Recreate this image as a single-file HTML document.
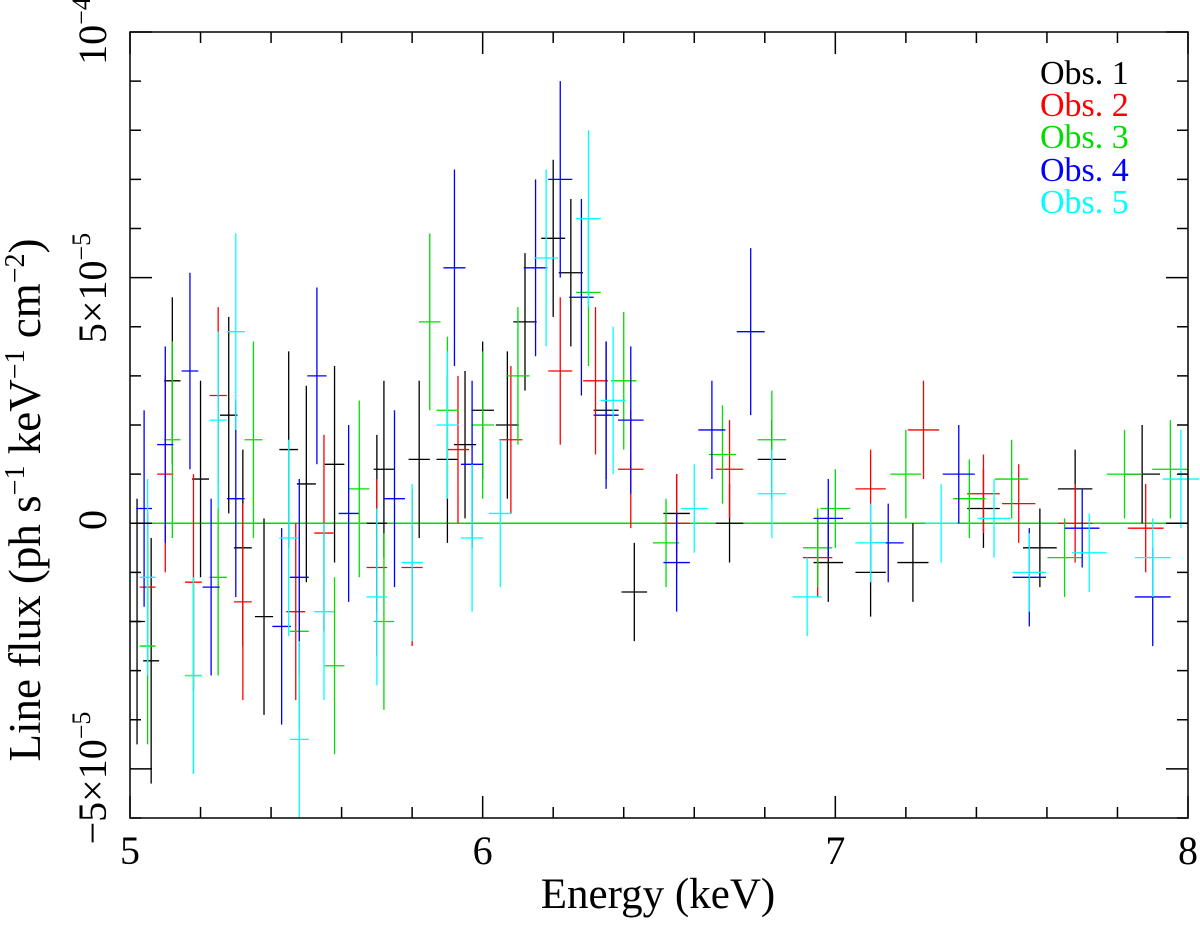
<!DOCTYPE html>
<html><head><meta charset="utf-8"><style>
body{margin:0;background:#fff}
svg{font-family:"Liberation Serif",serif}
</style></head><body>
<svg id="chart" width="1200" height="921" viewBox="0 0 1200 921">
<g id="marks"></g>
<g id="axes"></g>
<text x="658" y="908" font-size="43" text-anchor="middle">Energy (keV)</text>
<text transform="translate(40,500) rotate(-90)" font-size="45" text-anchor="middle">Line flux (ph s<tspan font-size="28" dy="-16">−1</tspan><tspan dy="16"> keV</tspan><tspan font-size="28" dy="-16">−1</tspan><tspan dy="16"> cm</tspan><tspan font-size="28" dy="-16">−2</tspan><tspan dy="16">)</tspan></text>
<g font-size="34">
<text x="1040" y="84" fill="#000">Obs. 1</text>
<text x="1040" y="116" fill="#ff0000">Obs. 2</text>
<text x="1040" y="148" fill="#00dd00">Obs. 3</text>
<text x="1040" y="181" fill="#0000ff">Obs. 4</text>
<text x="1040" y="213" fill="#00ffff">Obs. 5</text>
</g>
</svg>
<script>
// values in units of 1e-6 ph/s/keV/cm2
const obs1E=[5.02,5.06,5.12,5.2,5.28,5.32,5.38,5.45,5.5,5.58,5.7,5.72,5.82,5.9,5.95,6.0,6.07,6.12,6.2,6.25,6.35,6.43,6.55,6.7,6.82,6.98,7.1,7.22,7.42,7.58,7.68,7.87];
const obs1Y=[-20,-28,29,9,22,-5,-19,15,8,12,0,11,13,13,16,23,20,41,58,51,23,-14,2,0,13,-8,-10,-8,3,-5,7,10];
const obs1Err=[25,25,17,20,20,20,20,20,20,20,18,18,16,17,15,14,15,14,16,15,14,10,8,8,8,8,9,8,8,8,8,10];
const obs2E=[5.05,5.1,5.18,5.25,5.32,5.47,5.55,5.7,5.8,5.93,6.08,6.22,6.32,6.42,6.55,6.7,6.95,7.1,7.25,7.42,7.52,7.68,7.88];
const obs2Y=[-13,10,-12,26,-16,-18,-2,-9,-9,15,17,31,29,11,0,11,-7,7,19,6,4,0,-1];
const obs2Err=[15,20,22,18,20,18,20,18,16,15,15,15,15,12,10,10,8,8,10,8,8,8,9];
const obs3E=[5.05,5.12,5.18,5.25,5.35,5.48,5.58,5.65,5.72,5.85,5.9,6.0,6.1,6.3,6.4,6.52,6.68,6.82,6.95,7.0,7.2,7.38,7.5,7.65,7.82,7.95];
const obs3Y=[-25,17,-31,-11,17,-22,-29,7,-20,41,23,20,30,47,29,-4,14,17,-5,3,10,5,9,-7,10,11];
const obs3Err=[20,20,20,20,20,20,18,18,18,18,15,15,14,15,14,9,10,10,8,8,9,8,8,8,9,10];
const obs4E=[5.04,5.1,5.17,5.23,5.3,5.43,5.48,5.53,5.62,5.75,5.92,5.97,6.15,6.22,6.28,6.35,6.42,6.55,6.65,6.76,6.98,7.15,7.35,7.55,7.7,7.9];
const obs4Y=[3,16,31,-13,5,-21,-11,30,2,5,52,12,52,70,46,22,21,-8,19,39,1,-4,10,-11,-1,-15];
const obs4Err=[20,20,20,18,20,20,20,18,18,18,20,17,18,20,20,15,15,10,10,17,8,8,10,10,8,10];
const obs5E=[5.05,5.18,5.25,5.3,5.45,5.48,5.55,5.7,5.8,5.9,5.97,6.05,6.18,6.3,6.37,6.6,6.82,6.92,7.1,7.3,7.45,7.55,7.72,7.9,7.98];
const obs5Y=[-11,-31,21,39,-3,-44,-18,-15,-8,20,-3,2,54,62,25,3,6,-15,-4,0,1,-10,-6,-7,9];
const obs5Err=[20,20,18,20,20,20,18,18,16,15,15,15,18,18,15,9,9,8,8,8,8,8,8,8,10];
const xTicks=[5,6,7,8];
const series=[[obs1E,obs1Y,obs1Err,'#000000','obs1'],[obs2E,obs2Y,obs2Err,'#ff0000','obs2'],[obs3E,obs3Y,obs3Err,'#00dd00','obs3'],[obs4E,obs4Y,obs4Err,'#0000ff','obs4'],[obs5E,obs5Y,obs5Err,'#00ffff','obs5']];
const L=130,R=1188,T=32,B=818,xmin=5,xmax=8,ymin=-60,ymax=100;
const sx=v=>L+(v-xmin)/(xmax-xmin)*(R-L);
const sy=v=>B-(v-ymin)/(ymax-ymin)*(B-T);
const NS='http://www.w3.org/2000/svg';
function mk(tag,attrs,parent){const e=document.createElementNS(NS,tag);for(const k in attrs)e.setAttribute(k,attrs[k]);parent.appendChild(e);return e;}
const marks=document.getElementById('marks'),axes=document.getElementById('axes');
const zl=mk('line',{x1:L,x2:R,y1:sy(0),y2:sy(0),stroke:'#00dd00','stroke-width':1.5},marks);


series.forEach(s=>{
  const g=mk('g',{stroke:s[3],'stroke-width':1.3},marks);
  
  
  s[0].forEach((e,i)=>{
    const hw=0.022+(e-5)*0.01;
    const p=mk('path',{d:`M${sx(e-hw)},${sy(s[1][i])}H${sx(e+hw)}M${sx(e)},${sy(Math.max(ymin,s[1][i]-s[2][i]))}V${sy(s[1][i]+s[2][i])}`},g);
    
    
  });
});
const fr=mk('rect',{x:L,y:T,width:R-L,height:B-T,fill:'none',stroke:'#000','stroke-width':1.5},axes);


let d='';
for(let v=5;v<=8.001;v+=0.2){const x=sx(v);const maj=Math.abs(v-Math.round(v))<1e-6;const l=maj?22:11;d+=`M${x},${B}V${B-l}M${x},${T}V${T+l}`;}
for(let v=-60;v<=100;v+=10){const y=sy(v);const l=(v%50===0)?22:11;d+=`M${L},${y}H${L+l}M${R},${y}H${R-l}`;}
const tk=mk('path',{d:d,stroke:'#000','stroke-width':1.5,fill:'none'},axes);


xTicks.forEach(v=>{const t=mk('text',{x:sx(v),y:B+46,'font-size':40,'text-anchor':'middle'},axes);t.textContent=v;

});
const yl=[[100,'10','−4',31],[50,'5×10','−5',288],[0,'0','',520],[-50,'−5×10','−5',778]];
yl.forEach(a=>{
  const t=mk('text',{transform:`translate(106,${a[3]}) rotate(-90)`,'font-size':40,'text-anchor':'middle'},axes);
  
  
  const b=mk('tspan',{},t);b.textContent=a[1];
  if(a[2]){const s=mk('tspan',{'font-size':26,dy:-16},t);s.textContent=a[2];}
});
</script>
</body></html>
